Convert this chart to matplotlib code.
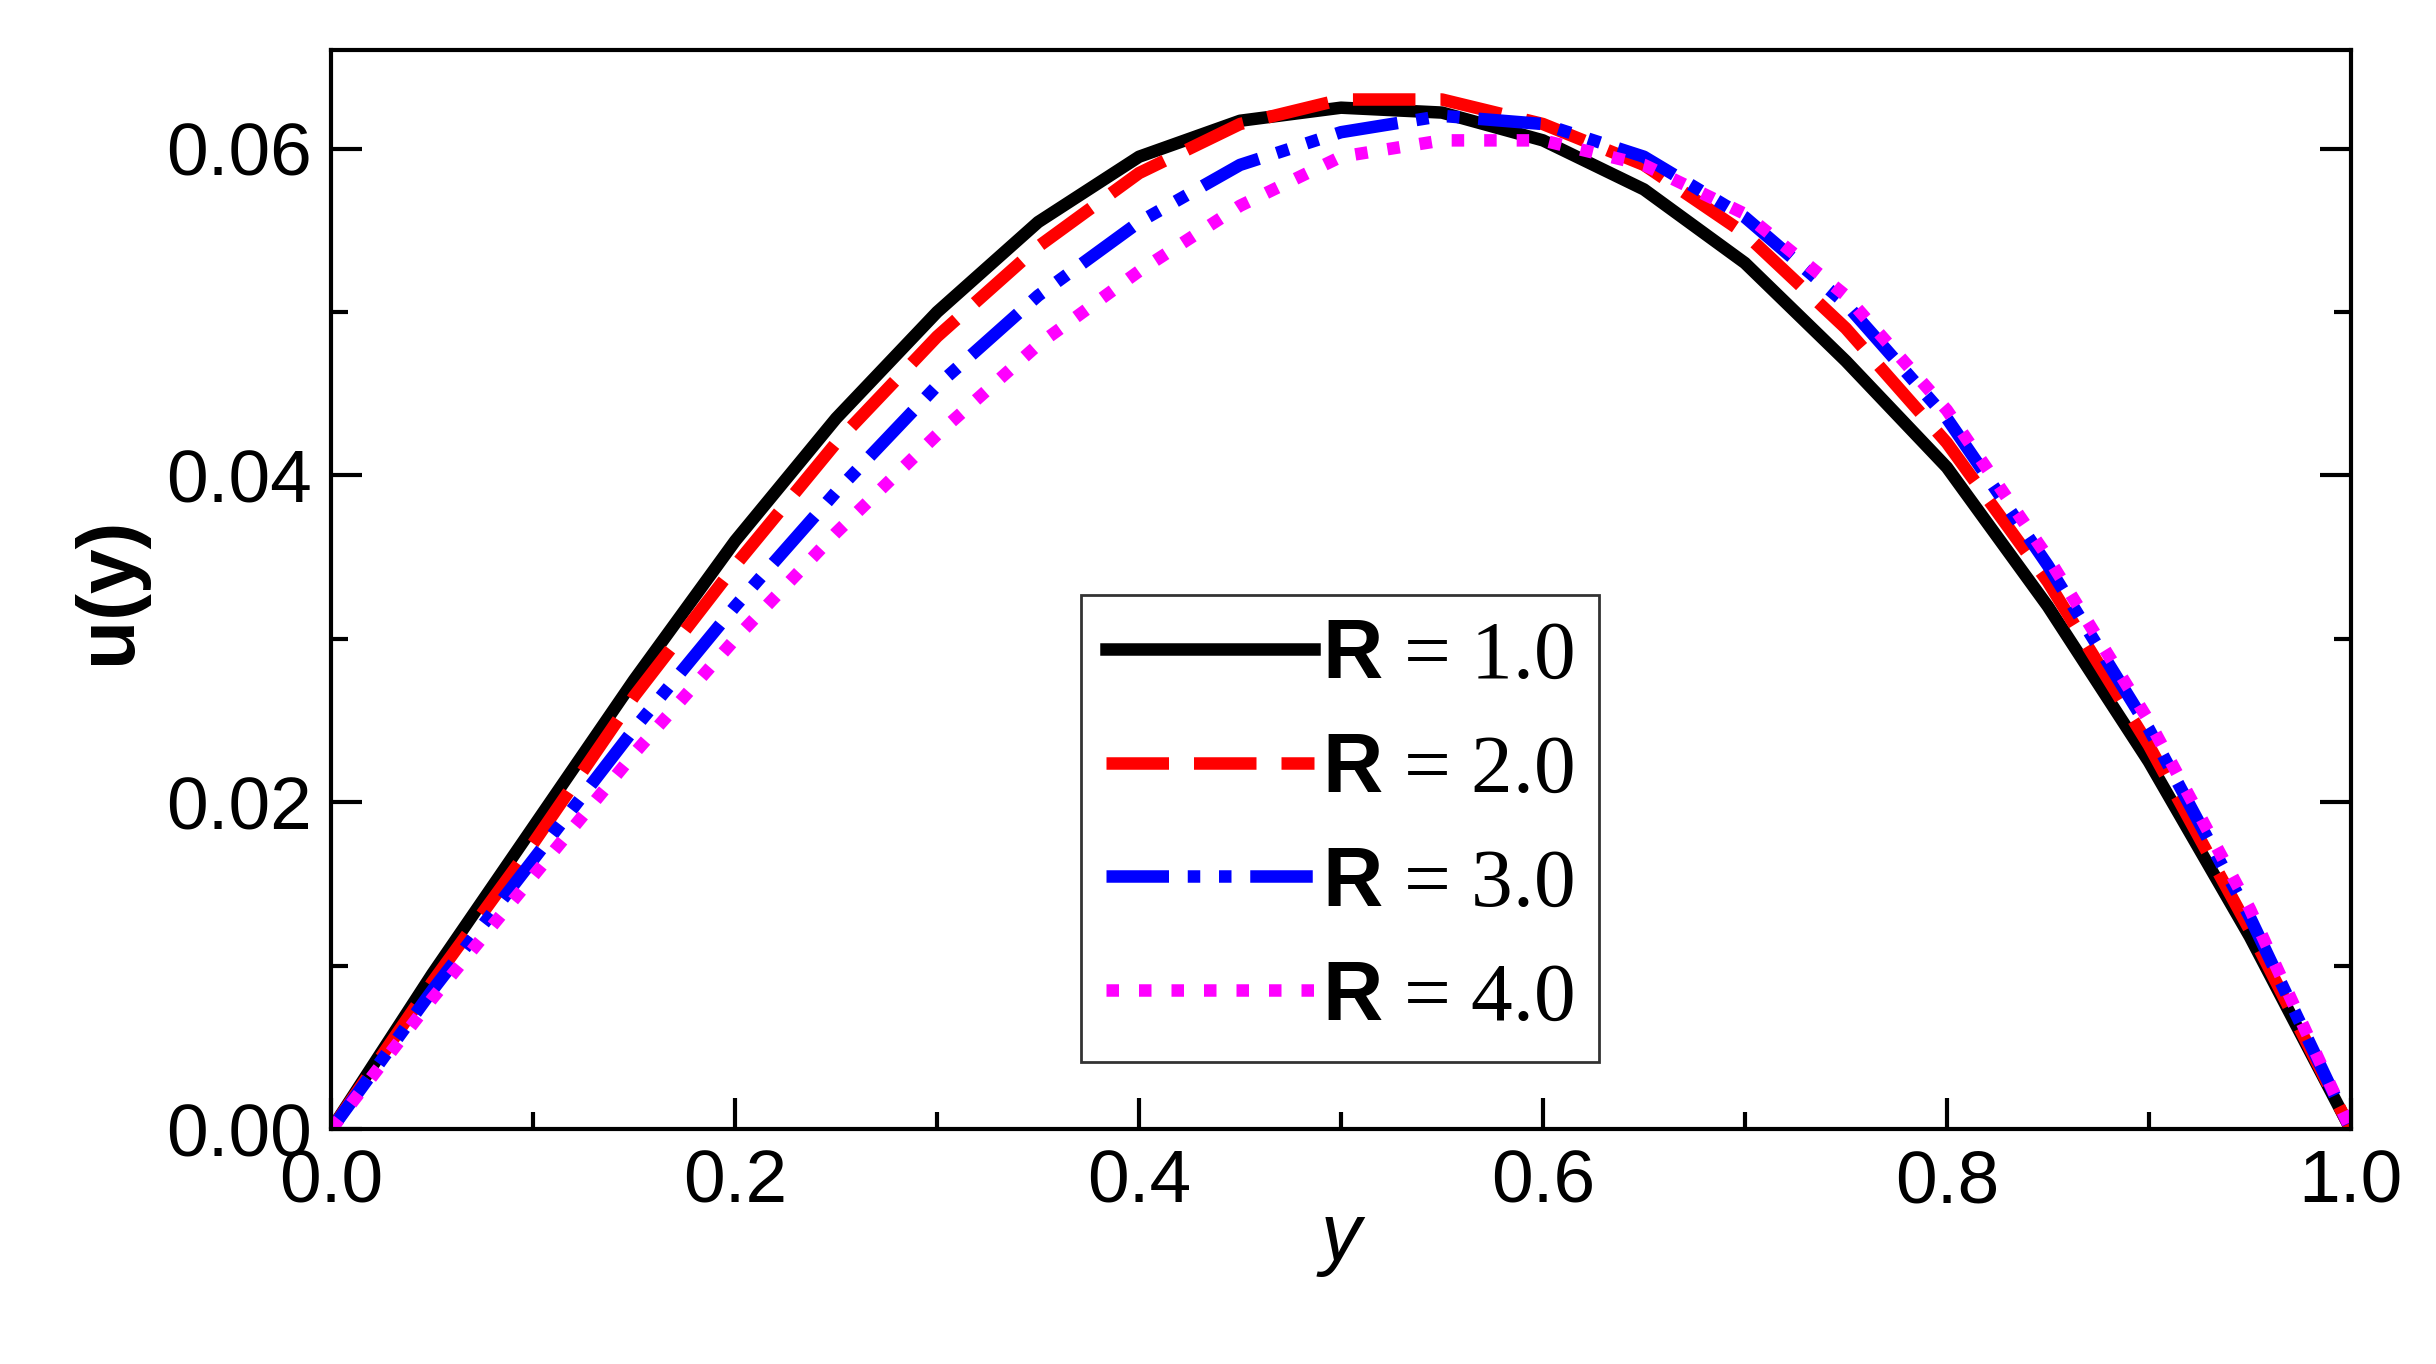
import matplotlib
matplotlib.use("Agg")
import matplotlib.pyplot as plt
from matplotlib.ticker import MultipleLocator

plt.rcParams['font.family'] = ['Liberation Sans', 'DejaVu Sans']
plt.rcParams['mathtext.fontset'] = 'custom'
plt.rcParams['mathtext.bf'] = 'Liberation Sans:bold'

x = [0,0.05,0.1,0.15,0.2,0.25,0.3,0.35,0.4,0.45,0.5,0.55,0.6,0.65,0.7,0.75,0.8,0.85,0.9,0.95,1.0]
r1 = [0,0.0095,0.0185,0.0275,0.036,0.0435,0.050,0.0555,0.0595,0.0617,0.0625,0.0622,0.0605,0.0575,0.053,0.047,0.0405,0.032,0.0225,0.0118,0]
r2 = [0,0.009,0.0175,0.0265,0.0345,0.042,0.0485,0.054,0.0585,0.0615,0.063,0.063,0.0615,0.059,0.0548,0.049,0.042,0.0335,0.0235,0.0122,0]
r3 = [0,0.0085,0.0165,0.0245,0.032,0.039,0.0455,0.051,0.0555,0.059,0.061,0.062,0.0615,0.0595,0.0558,0.0505,0.0435,0.0345,0.0245,0.013,0]
r4 = [0,0.008,0.0155,0.023,0.030,0.0365,0.0425,0.048,0.0525,0.0565,0.0595,0.0605,0.0605,0.059,0.056,0.051,0.044,0.035,0.025,0.0135,0]
labels = ["1.0", "2.0", "3.0", "4.0"]

fig = plt.figure(figsize=(24.36, 13.64), dpi=100)
ax = fig.add_axes([0.136, 0.172, 0.829, 0.791])
lw = 9
kw = dict(lw=lw, solid_joinstyle='round', dash_joinstyle='round')
ax.plot(x, r1, color='black', label=r"$\mathbf{R}$ = " + labels[0], **kw)
ax.plot(x, r2, color='red', dashes=(5, 2), label=r"$\mathbf{R}$ = " + labels[1], **kw)
ax.plot(x, r3, color='blue', dashes=(5, 1.5, 1, 1.5, 1, 1.5), label=r"$\mathbf{R}$ = " + labels[2], **kw)
ax.plot(x, r4, color='magenta', dashes=(1, 1.6), label=r"$\mathbf{R}$ = " + labels[3], **kw)

ax.set_xlim(0, 1)
ax.set_ylim(0, 0.066)
ax.xaxis.set_major_locator(MultipleLocator(0.2))
ax.xaxis.set_minor_locator(MultipleLocator(0.1))
ax.yaxis.set_major_locator(MultipleLocator(0.02))
ax.yaxis.set_minor_locator(MultipleLocator(0.01))
ax.set_xticklabels([f"{v:.1f}" for v in ax.get_xticks()])
ax.set_yticklabels([f"{v:.2f}" for v in ax.get_yticks()])
ax.tick_params(which='both', direction='in', width=3, right=True, top=False, labelsize=54, pad=14)
ax.tick_params(which='major', length=22)
ax.tick_params(which='minor', length=12)
for s in ax.spines.values():
    s.set_linewidth(3)
ax.set_xlabel("y", fontsize=58, style='italic', labelpad=-12)
ax.set_ylabel("u(y)", fontsize=58, fontweight='bold', labelpad=14)

leg = ax.legend(loc='lower left', bbox_to_anchor=(0.371, 0.062), fancybox=False,
                edgecolor='black', prop={'family': 'Liberation Serif', 'size': 60},
                handlelength=2.5, handletextpad=0.1, borderpad=0.3, labelspacing=0.45,
                borderaxespad=0)
leg.get_frame().set_linewidth(2)
fig.savefig("out.png", dpi=100)
